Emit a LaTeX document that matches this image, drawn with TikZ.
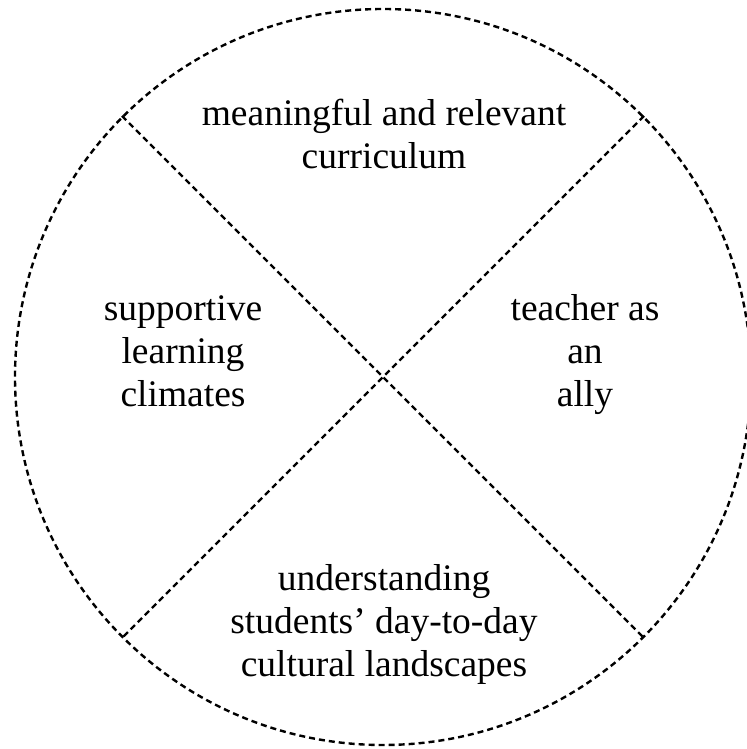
\documentclass[tikz,border=0pt]{standalone}
\usepackage{fontspec}
\setmainfont{Liberation Serif}
\usepackage{tikz}

\begin{document}
\begin{tikzpicture}[x=0.5pt, y=0.5pt,
  dashline/.style={line width=1.2pt, dash pattern=on 3pt off 2pt},
  sector/.style={align=center, font=\fontsize{18.75}{21.5}\selectfont}]
  \useasboundingbox (0,0) rectangle (746,749);
  \node [circle, draw, dashline, minimum size=368pt, inner sep=0pt] (wheel) at (383,372) {};
  \draw [dashline] (wheel.135) -- (wheel.-45);
  \draw [dashline] (wheel.45) -- (wheel.-135);
  \node [sector] (curric) at (384,615) {meaningful and relevant\\curriculum};
  \node [sector] (climate) at (183,398) {supportive\\learning\\climates};
  \node [sector] (ally) at (585,394) {teacher as\\an\\ally};
  \node [sector] (culture) at (384,125) {understanding\\students’ day-to-day\\cultural landscapes};
\end{tikzpicture}
\end{document}
